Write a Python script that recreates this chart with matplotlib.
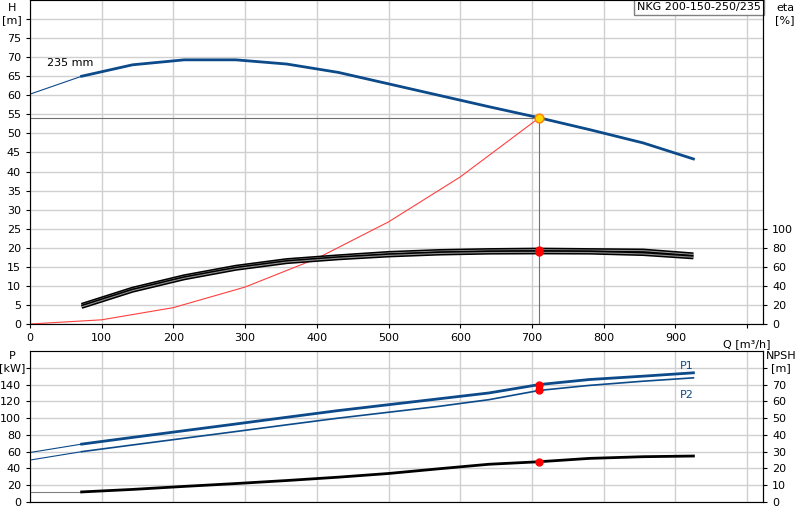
import matplotlib
matplotlib.use("Agg")
import matplotlib.pyplot as plt

q_thick = [72, 143, 215, 287, 358, 430, 500, 570, 640, 710, 780, 855, 925]
h_thin_q = [0, 72]
h_thin = [60.3, 65.0]
h_vals = [65.0, 68.0, 69.3, 69.3, 68.2, 66.0, 63.0, 60.0, 57.0, 54.1, 51.0, 47.5, 43.3]
sys_q = [0, 100, 200, 300, 400, 500, 600, 710]
sys_h = [0, 1.1, 4.3, 9.7, 17.2, 26.8, 38.6, 54.1]
eta1 = [20, 37, 50, 60, 67, 71, 74.5, 76.5, 77.5, 78, 77.5, 77, 73]
eta2 = [18, 35, 48, 58, 65, 69, 72, 74, 75, 75.2, 75, 73.5, 70]
p1_thin = [59, 69]
p1 = [69, 77, 85, 93, 101, 109, 116, 123, 130, 140, 146, 150, 154]
p2_thin = [50, 60]
p2 = [60, 68, 76, 84, 92, 100, 107, 114, 122, 133, 139, 144, 148]
npsh_thin = [6, 6]
npsh = [6, 7.5, 9.3, 11, 12.8, 14.8, 17, 19.8, 22.5, 24, 26, 27, 27.4]
op_q, op_h = 710, 54.1

blue = "#0c4a8a"
grid = "#d0d0d0"
fig = plt.figure(figsize=(8, 5.2), dpi=100)
L, R = 30/800, 763/800
ax = fig.add_axes([L, 1-324/520, R-L, 324/520])
axb = fig.add_axes([L, 1-502/520, R-L, (502-351)/520])

for a in (ax, axb):
    a.set_xlim(0, 1022)
    a.set_xticks(range(0, 1001, 100))
    a.grid(True, color=grid, lw=1)
    a.tick_params(labelsize=8, length=3, direction="out")
    for s in a.spines.values():
        s.set_color("#808080")
    a.spines["right"].set_color("black")

ax.set_ylim(0, 85)
ax.set_yticks(range(0, 81, 5))
ax.set_yticklabels([str(v) for v in range(0, 76, 5)] + [""])
ax.set_xticklabels(["0"] + [str(v) for v in range(100, 901, 100)] + [""])
ax.text(1000, -5.2, "Q [m³/h]", fontsize=8, ha="center", va="center", clip_on=False)

ax.plot(h_thin_q, h_thin, color=blue, lw=0.8)
ax.plot(q_thick, h_vals, color=blue, lw=2)
ax.plot(sys_q, sys_h, color="#ff4040", lw=0.8)
ax.plot([0, op_q], [op_h, op_h], color="#707070", lw=0.8)
ax.plot([op_q, op_q], [0, op_h], color="#707070", lw=0.8)
ax.scatter([op_q], [op_h], s=40, color="#ffd700", edgecolor="#ff8000", zorder=5)
ax.text(24, 67.6, "235 mm", fontsize=8)
ax.text(1019, 84.5, "NKG 200-150-250/235", fontsize=8, ha="right", va="top",
        bbox=dict(facecolor="white", edgecolor="#808080", pad=2))

axe = ax.twinx()
axe.set_ylim(0, 340)
axe.set_yticks(range(0, 101, 20))
axe.tick_params(labelsize=8, length=3)
for e in (eta1, eta2):
    axe.plot(q_thick, e, color="black", lw=3, solid_capstyle="butt")
    axe.plot(q_thick, e, color="#909090", lw=0.8)
axe.scatter([op_q, op_q], [eta1[9], eta2[9]], s=25, color="red", zorder=5)

fig.text(12/800, 1-14/520, "H\n[m]", fontsize=8, ha="center", va="center")
fig.text(785/800, 1-14/520, "eta\n[%]", fontsize=8, ha="center", va="center")

axb.set_ylim(0, 180)
axb.set_yticks(range(0, 161, 20))
axb.set_yticklabels([str(v) for v in range(0, 141, 20)] + [""])
axb.set_xticklabels([])
axb.tick_params(axis="x", length=0)
axb.plot(h_thin_q, p1_thin, color=blue, lw=0.8)
axb.plot(h_thin_q, p2_thin, color=blue, lw=0.8)
axb.plot(q_thick, p1, color=blue, lw=2)
axb.plot(q_thick, p2, color=blue, lw=1.2)
axb.text(925, 158, "P1", color=blue, fontsize=8, ha="right")
axb.text(925, 133, "P2", color=blue, fontsize=8, ha="right", va="top")
axb.scatter([op_q, op_q], [p1[9], p2[9]], s=25, color="red", zorder=5)
fig.text(12/800, 1-362/520, "P\n[kW]", fontsize=8, ha="center", va="center")

axn = axb.twinx()
axn.set_ylim(0, 90)
axn.set_yticks(range(0, 81, 10))
axn.set_yticklabels([str(v) for v in range(0, 71, 10)] + [""])
axn.tick_params(labelsize=8, length=3)
axn.plot(h_thin_q, npsh_thin, color="#808080", lw=0.8)
axn.plot(q_thick, npsh, color="black", lw=2)
axn.scatter([op_q], [npsh[9]], s=25, color="red", zorder=5)
fig.text(781/800, 1-362/520, "NPSH\n[m]", fontsize=8, ha="center", va="center")

fig.savefig("out.png", dpi=100)
